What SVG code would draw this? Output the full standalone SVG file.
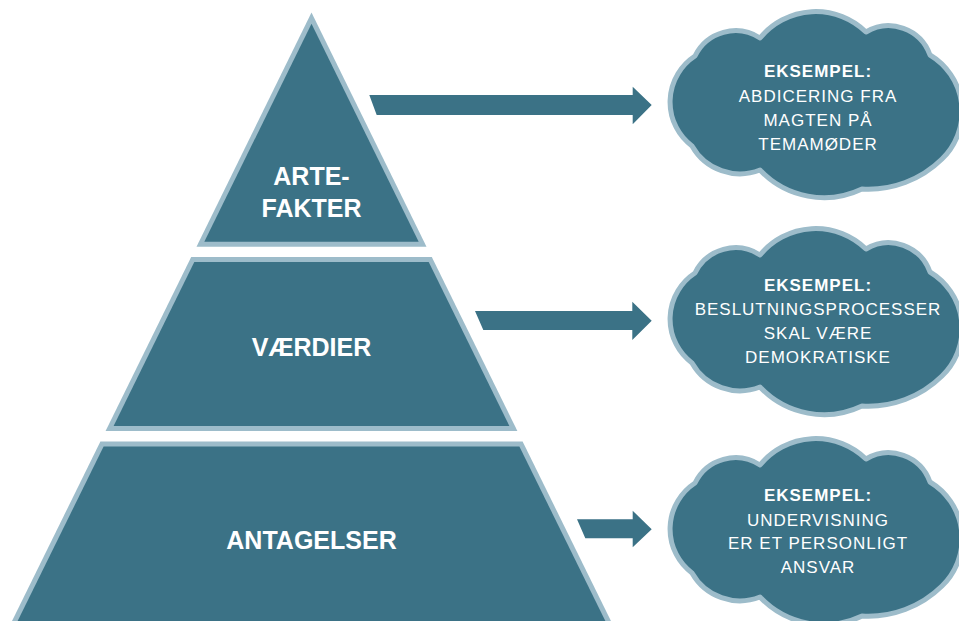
<svg xmlns="http://www.w3.org/2000/svg" width="959" height="621" viewBox="0 0 959 621">
<defs>
<style>
.outer{fill:#9dbcca}
.inner{fill:#3b7286}
.arrow{fill:#3b7286}
.cloud{fill:#3b7286;stroke:#9dbcca;stroke-width:5;stroke-linejoin:round}
.lvl{font-family:"Liberation Sans",Arial,sans-serif;font-weight:bold;font-size:25px;fill:#ffffff;text-anchor:middle}
.ct{font-family:"Liberation Sans",Arial,sans-serif;font-size:17px;letter-spacing:1px;fill:#ffffff;text-anchor:middle}
.cb{font-weight:bold}
</style>
<path id="cloudShape" d="M 692,146 A 55 55 0 0 1 695,56 A 45 45 0 0 1 760,38 A 72 72 0 0 1 866,32 A 44 44 0 0 1 930,55 A 66 66 0 0 1 942,159 A 105 105 0 0 1 862,189 A 88 88 0 0 1 760,170 A 55 55 0 0 1 692,146 Z"/>
</defs>
<rect width="959" height="621" fill="#ffffff"/>

<g id="level-artefakter">
<polygon class="outer" points="311.5,12.5 196.5,246.7 426.5,246.7"/>
<polygon class="inner" points="311.5,23.8 204.3,241.7 418.7,241.7"/>
<text class="lvl" x="311.5" y="185">ARTE-</text>
<text class="lvl" x="311.5" y="216.5">FAKTER</text>
</g>

<g id="level-vaerdier">
<polygon class="outer" points="191.2,257 431.8,257 517.4,431 105.6,431"/>
<polygon class="inner" points="194.3,262 428.7,262 509.4,426 113.6,426"/>
<text class="lvl" x="311.5" y="356">VÆRDIER</text>
</g>

<g id="level-antagelser">
<polygon class="outer" points="100.4,441.5 522.6,441.5 614.9,629 8.1,629"/>
<polygon class="inner" points="103.6,446.5 519.4,446.5 609.3,629 13.7,629"/>
<text class="lvl" x="311.5" y="548.5">ANTAGELSER</text>
</g>

<g id="connectors">
<polygon class="arrow" points="369.3,95 632.7,95 632.7,86.7 651.7,105 632.7,124.3 632.7,115 376.7,115"/>
<polygon class="arrow" points="475,311 632.3,311 632.3,301.7 651.7,320.7 632.3,340 632.3,330 483.3,330"/>
<polygon class="arrow" points="577,519.3 632.7,519.3 632.7,510.7 651.7,529.3 632.7,547.3 632.7,538.3 585.3,538.3"/>
</g>

<g id="cloud-1">
<use href="#cloudShape" class="cloud"/>
<text class="ct cb" x="818" y="77.3">EKSEMPEL:</text>
<text class="ct" x="818" y="101.7">ABDICERING FRA</text>
<text class="ct" x="818" y="126">MAGTEN PÅ</text>
<text class="ct" x="818" y="150">TEMAMØDER</text>
</g>

<g id="cloud-2">
<use href="#cloudShape" class="cloud" transform="translate(0,217)"/>
<text class="ct cb" x="818" y="290.7">EKSEMPEL:</text>
<text class="ct" x="818" y="315">BESLUTNINGSPROCESSER</text>
<text class="ct" x="818" y="338.5">SKAL VÆRE</text>
<text class="ct" x="818" y="362.7">DEMOKRATISKE</text>
</g>

<g id="cloud-3">
<use href="#cloudShape" class="cloud" transform="translate(0,427)"/>
<text class="ct cb" x="818" y="500.7">EKSEMPEL:</text>
<text class="ct" x="818" y="526">UNDERVISNING</text>
<text class="ct" x="818" y="549.3">ER ET PERSONLIGT</text>
<text class="ct" x="818" y="573.3">ANSVAR</text>
</g>
</svg>
